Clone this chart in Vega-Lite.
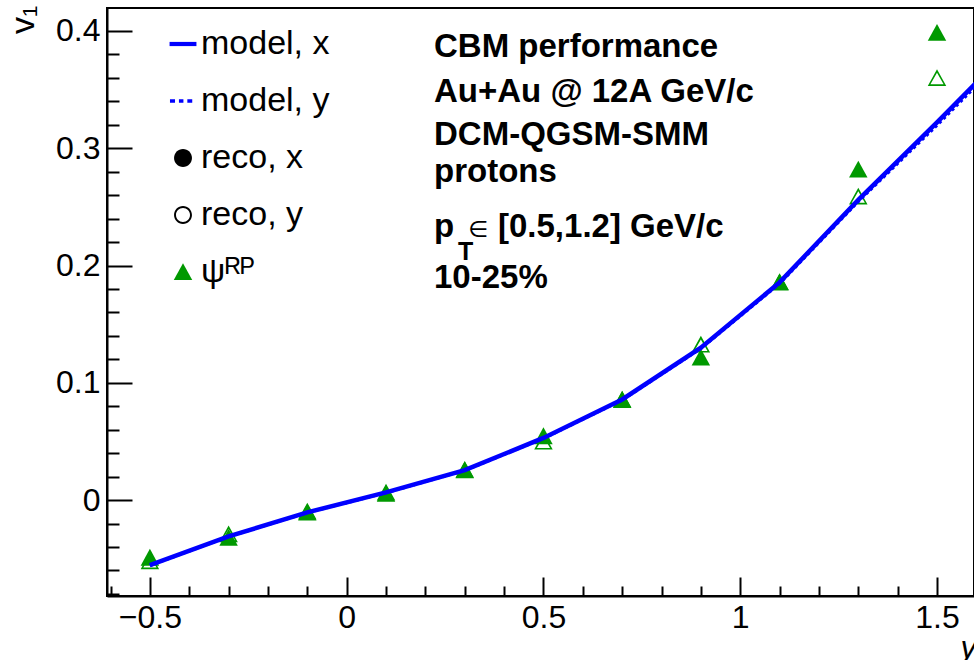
{
  "$schema": "https://vega.github.io/schema/vega-lite/v6.json",
  "autosize": {"type": "none"},
  "width": 867,
  "height": 588,
  "padding": {"left": 107, "top": 8, "right": 0, "bottom": 64},
  "background": "white",
  "config": {
    "view": {"stroke": "#000000", "strokeWidth": 2},
    "font": "Liberation Sans"
  },
  "data": {
    "values": [
      {"rap": -0.5, "v1": -0.0555, "series": "model, x"},
      {"rap": -0.3, "v1": -0.031, "series": "model, x"},
      {"rap": -0.1, "v1": -0.0105, "series": "model, x"},
      {"rap": 0.1, "v1": 0.0065, "series": "model, x"},
      {"rap": 0.3, "v1": 0.0255, "series": "model, x"},
      {"rap": 0.5, "v1": 0.053, "series": "model, x"},
      {"rap": 0.7, "v1": 0.0858, "series": "model, x"},
      {"rap": 0.9, "v1": 0.130, "series": "model, x"},
      {"rap": 1.1, "v1": 0.1856, "series": "model, x"},
      {"rap": 1.3, "v1": 0.256, "series": "model, x"},
      {"rap": 1.5, "v1": 0.322, "series": "model, x"},
      {"rap": 1.7, "v1": 0.39, "series": "model, x"},
      {"rap": -0.5, "v1": -0.0558, "series": "model, y"},
      {"rap": -0.3, "v1": -0.0312, "series": "model, y"},
      {"rap": -0.1, "v1": -0.0108, "series": "model, y"},
      {"rap": 0.1, "v1": 0.0062, "series": "model, y"},
      {"rap": 0.3, "v1": 0.0252, "series": "model, y"},
      {"rap": 0.5, "v1": 0.0525, "series": "model, y"},
      {"rap": 0.7, "v1": 0.0852, "series": "model, y"},
      {"rap": 0.9, "v1": 0.1292, "series": "model, y"},
      {"rap": 1.1, "v1": 0.1845, "series": "model, y"},
      {"rap": 1.3, "v1": 0.2545, "series": "model, y"},
      {"rap": 1.5, "v1": 0.3195, "series": "model, y"},
      {"rap": 1.7, "v1": 0.387, "series": "model, y"},
      {"rap": -0.5, "v1": -0.049, "series": "ψᴿᴾ"},
      {"rap": -0.3, "v1": -0.032, "series": "ψᴿᴾ"},
      {"rap": -0.1, "v1": -0.0096, "series": "ψᴿᴾ"},
      {"rap": 0.1, "v1": 0.0066, "series": "ψᴿᴾ"},
      {"rap": 0.3, "v1": 0.026, "series": "ψᴿᴾ"},
      {"rap": 0.5, "v1": 0.0546, "series": "ψᴿᴾ"},
      {"rap": 0.7, "v1": 0.0858, "series": "ψᴿᴾ"},
      {"rap": 0.9, "v1": 0.1216, "series": "ψᴿᴾ"},
      {"rap": 1.1, "v1": 0.1856, "series": "ψᴿᴾ"},
      {"rap": 1.3, "v1": 0.282, "series": "ψᴿᴾ"},
      {"rap": 1.5, "v1": 0.3985, "series": "ψᴿᴾ"},
      {"rap": -0.5, "v1": -0.052, "series": "ψᴿᴾ, y"},
      {"rap": -0.3, "v1": -0.029, "series": "ψᴿᴾ, y"},
      {"rap": -0.1, "v1": -0.0105, "series": "ψᴿᴾ, y"},
      {"rap": 0.1, "v1": 0.0055, "series": "ψᴿᴾ, y"},
      {"rap": 0.3, "v1": 0.0255, "series": "ψᴿᴾ, y"},
      {"rap": 0.5, "v1": 0.050, "series": "ψᴿᴾ, y"},
      {"rap": 0.7, "v1": 0.0855, "series": "ψᴿᴾ, y"},
      {"rap": 0.9, "v1": 0.1327, "series": "ψᴿᴾ, y"},
      {"rap": 1.1, "v1": 0.186, "series": "ψᴿᴾ, y"},
      {"rap": 1.3, "v1": 0.259, "series": "ψᴿᴾ, y"},
      {"rap": 1.5, "v1": 0.360, "series": "ψᴿᴾ, y"}
    ]
  },
  "encoding": {
    "x": {
      "field": "rap", "type": "quantitative",
      "scale": {"domain": [-0.609, 1.594], "nice": false, "zero": false},
      "axis": {
        "values": [-0.6, -0.5, -0.4, -0.3, -0.2, -0.1, 0, 0.1, 0.2, 0.3, 0.4, 0.5, 0.6, 0.7, 0.8, 0.9, 1, 1.1, 1.2, 1.3, 1.4, 1.5],
        "format": "~g",
        "labelExpr": "abs(datum.value*2 - round(datum.value*2)) < 0.000001 ? datum.label : ''",
        "tickSize": {"condition": {"test": "abs(datum.value*2 - round(datum.value*2)) < 0.000001", "value": -19}, "value": -10},
        "tickWidth": 2, "tickColor": "#000000",
        "domainColor": "#000000", "domainWidth": 2,
        "grid": false,
        "labelFont": "Liberation Sans", "labelFontSize": 32, "labelColor": "#000000",
        "labelPadding": 25, "labelBaseline": "top", "labelOverlap": false, "labelFlush": false,
        "title": "y", "titleFont": "Liberation Sans", "titleFontSize": 32, "titleFontStyle": "italic", "titleFontWeight": "normal", "titleColor": "#000000",
        "titleAlign": "left", "titleBaseline": "alphabetic", "titleX": 853, "titleY": 61, "titleAnchor": null
      }
    },
    "y": {
      "field": "v1", "type": "quantitative",
      "scale": {"domain": [-0.0818, 0.4196], "nice": false, "zero": false},
      "axis": {
        "values": [-0.08, -0.06, -0.04, -0.02, 0, 0.02, 0.04, 0.06, 0.08, 0.1, 0.12, 0.14, 0.16, 0.18, 0.2, 0.22, 0.24, 0.26, 0.28, 0.3, 0.32, 0.34, 0.36, 0.38, 0.4],
        "format": "~g",
        "labelExpr": "abs(datum.value*10 - round(datum.value*10)) < 0.000001 ? datum.label : ''",
        "tickSize": {"condition": {"test": "abs(datum.value*10 - round(datum.value*10)) < 0.000001", "value": -25}, "value": -12},
        "tickWidth": 2, "tickColor": "#000000",
        "domainColor": "#000000", "domainWidth": 2,
        "grid": false,
        "labelFont": "Liberation Sans", "labelFontSize": 32, "labelColor": "#000000",
        "labelPadding": 32, "labelOverlap": false, "labelFlush": false,
        "title": "v₁", "titleFont": "Liberation Sans", "titleFontSize": 34, "titleFontWeight": "normal", "titleColor": "#000000",
        "titleAngle": 270, "titleAlign": "right", "titleBaseline": "alphabetic", "titleX": -74, "titleY": -3, "titleAnchor": null
      }
    }
  },
  "layer": [
    {
      "transform": [{"filter": {"field": "series", "oneOf": ["ψᴿᴾ", "ψᴿᴾ, y"]}}],
      "mark": {"type": "point", "filled": true, "size": 784, "opacity": 1, "strokeWidth": 0, "clip": true},
      "encoding": {
        "shape": {
          "field": "series", "type": "nominal",
          "scale": {
            "domain": ["model, x", "model, y", "reco, x", "reco, y", "ψᴿᴾ", "ψᴿᴾ, y"],
            "range": [
              "M-0.96,-0.15H0.96V0.15H-0.96Z",
              "M-0.93,-0.12H-0.57V0.12H-0.93Z M-0.29,-0.12H0.03V0.12H-0.29Z M0.31,-0.12H0.66V0.12H0.31Z",
              "M-0.64,0A0.64,0.64 0 1,0 0.64,0A0.64,0.64 0 1,0 -0.64,0Z",
              "M-0.64,0A0.64,0.64 0 1,0 0.64,0A0.64,0.64 0 1,0 -0.64,0Z M-0.5,0A0.5,0.5 0 1,1 0.5,0A0.5,0.5 0 1,1 -0.5,0Z",
              "M0,-0.62L0.66,0.58L-0.66,0.58Z",
              "M0,-0.62L0.66,0.58L-0.66,0.58Z M0,-0.36L-0.47,0.46L0.47,0.46Z"
            ]
          },
          "legend": {
            "orient": "none", "legendX": 59, "legendY": 19, "title": null,
            "values": ["model, x", "model, y", "reco, x", "reco, y", "ψᴿᴾ"],
            "symbolSize": 784, "symbolStrokeWidth": 0,
            "labelFont": "Liberation Sans", "labelFontSize": 34, "labelColor": "#000000",
            "labelOffset": 1, "rowPadding": 23, "padding": 0, "labelLimit": 400
          }
        },
        "color": {
          "field": "series", "type": "nominal",
          "scale": {
            "domain": ["model, x", "model, y", "reco, x", "reco, y", "ψᴿᴾ", "ψᴿᴾ, y"],
            "range": ["#0000ff", "#0000ff", "#000000", "#000000", "#009900", "#009900"]
          },
          "legend": {
            "orient": "none", "legendX": 59, "legendY": 19, "title": null,
            "values": ["model, x", "model, y", "reco, x", "reco, y", "ψᴿᴾ"],
            "symbolSize": 784, "symbolStrokeWidth": 0,
            "labelFont": "Liberation Sans", "labelFontSize": 34, "labelColor": "#000000",
            "labelOffset": 1, "rowPadding": 23, "padding": 0, "labelLimit": 400
          }
        }
      }
    },
    {
      "transform": [{"filter": {"field": "series", "equal": "model, x"}}],
      "mark": {"type": "line", "color": "#0000ff", "strokeWidth": 4.5, "clip": true},
      "encoding": {}
    },
    {
      "transform": [{"filter": {"field": "series", "equal": "model, y"}}],
      "mark": {"type": "line", "color": "#0000ff", "strokeWidth": 3, "strokeDash": [3, 3], "clip": true},
      "encoding": {}
    },
    {
      "transform": [{"filter": "datum.series == 'model, x' && datum.rap == 0.1"}],
      "mark": {"type": "text", "text": "CBM performance", "align": "left", "baseline": "alphabetic", "font": "Liberation Sans", "fontSize": 33, "fontWeight": "bold", "color": "#000000"},
      "encoding": {"x": {"datum": 0.2219}, "y": {"datum": 0.3781}}
    },
    {
      "transform": [{"filter": "datum.series == 'model, x' && datum.rap == 0.1"}],
      "mark": {"type": "text", "text": "Au+Au @ 12A GeV/c", "align": "left", "baseline": "alphabetic", "font": "Liberation Sans", "fontSize": 33, "fontWeight": "bold", "color": "#000000"},
      "encoding": {"x": {"datum": 0.2219}, "y": {"datum": 0.3397}}
    },
    {
      "transform": [{"filter": "datum.series == 'model, x' && datum.rap == 0.1"}],
      "mark": {"type": "text", "text": "DCM-QGSM-SMM", "align": "left", "baseline": "alphabetic", "font": "Liberation Sans", "fontSize": 33, "fontWeight": "bold", "color": "#000000"},
      "encoding": {"x": {"datum": 0.2219}, "y": {"datum": 0.3028}}
    },
    {
      "transform": [{"filter": "datum.series == 'model, x' && datum.rap == 0.1"}],
      "mark": {"type": "text", "text": "protons", "align": "left", "baseline": "alphabetic", "font": "Liberation Sans", "fontSize": 33, "fontWeight": "bold", "color": "#000000"},
      "encoding": {"x": {"datum": 0.2219}, "y": {"datum": 0.2715}}
    },
    {
      "transform": [{"filter": "datum.series == 'model, x' && datum.rap == 0.1"}],
      "mark": {"type": "text", "text": "p", "align": "left", "baseline": "alphabetic", "font": "Liberation Sans", "fontSize": 33, "fontWeight": "bold", "color": "#000000"},
      "encoding": {"x": {"datum": 0.2219}, "y": {"datum": 0.2246}}
    },
    {
      "transform": [{"filter": "datum.series == 'model, x' && datum.rap == 0.1"}],
      "mark": {"type": "text", "text": "T", "align": "left", "baseline": "alphabetic", "font": "Liberation Sans", "fontSize": 25, "fontWeight": "bold", "color": "#000000"},
      "encoding": {"x": {"datum": 0.2829}, "y": {"datum": 0.2047}}
    },
    {
      "transform": [{"filter": "datum.series == 'model, x' && datum.rap == 0.1"}],
      "mark": {"type": "text", "text": "∈", "align": "left", "baseline": "alphabetic", "font": "DejaVu Sans", "fontSize": 23, "fontWeight": "normal", "color": "#000000"},
      "encoding": {"x": {"datum": 0.309}, "y": {"datum": 0.2246}}
    },
    {
      "transform": [{"filter": "datum.series == 'model, x' && datum.rap == 0.1"}],
      "mark": {"type": "text", "text": "[0.5,1.2] GeV/c", "align": "left", "baseline": "alphabetic", "font": "Liberation Sans", "fontSize": 33, "fontWeight": "bold", "color": "#000000"},
      "encoding": {"x": {"datum": 0.3845}, "y": {"datum": 0.2246}}
    },
    {
      "transform": [{"filter": "datum.series == 'model, x' && datum.rap == 0.1"}],
      "mark": {"type": "text", "text": "10-25%", "align": "left", "baseline": "alphabetic", "font": "Liberation Sans", "fontSize": 33, "fontWeight": "bold", "color": "#000000"},
      "encoding": {"x": {"datum": 0.2219}, "y": {"datum": 0.1808}}
    }
  ]
}
